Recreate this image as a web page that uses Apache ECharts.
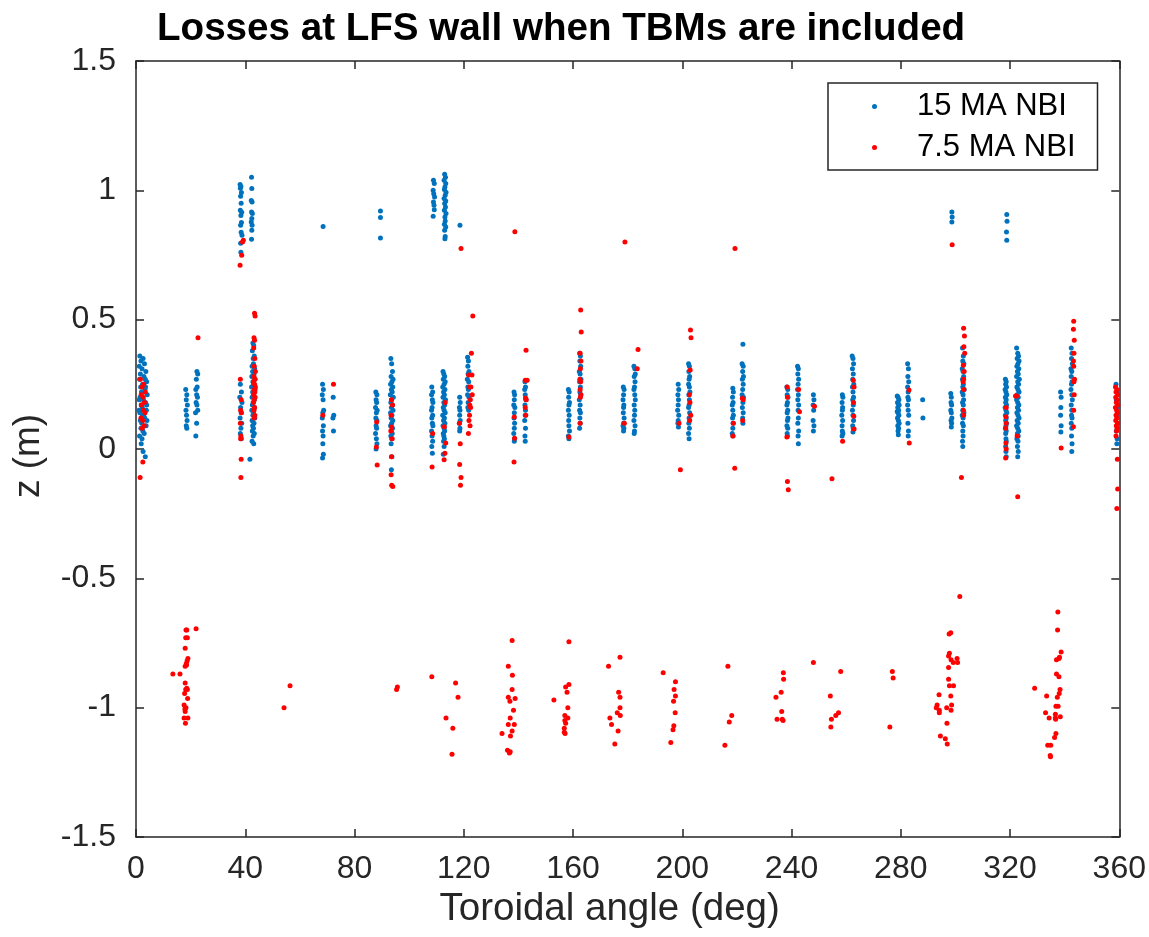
<!DOCTYPE html>
<html>
<head>
<meta charset="utf-8">
<script src="https://cdn.jsdelivr.net/npm/echarts@6/dist/echarts.min.js"></script>
<style>html,body{margin:0;padding:0;background:#fff;}#chart{width:1149px;height:937px;}</style>
</head>
<body>
<div id="chart"></div>
<script>
// ---- Data: [toroidal angle (deg), z (m)] ----
const seriesNames = ['15 MA NBI', '7.5 MA NBI'];
const xTicks = [0, 40, 80, 120, 160, 200, 240, 280, 320, 360];
const yTicks = [-1.5, -1, -0.5, 0, 0.5, 1, 1.5];

const blueTop = [
[38.1,1.023],[38.4,1.015],[38.2,1.008],[38.6,0.992],[38.3,0.977],[38.5,0.95],[38.2,0.923],[38.7,0.915],[38.4,0.903],[38.6,0.876],[38.3,0.865],[38.5,0.838],[38.8,0.826],[38.3,0.795],[38.4,0.761],
[42.3,1.051],[42.4,1.007],[42.2,0.961],[42.5,0.955],[42.3,0.916],[42.6,0.91],[42.4,0.891],[42.2,0.878],[42.5,0.865],[42.4,0.846],[42.3,0.811],
[68.5,0.86],
[89.5,0.92],[89.5,0.895],[89.5,0.816],
[108.9,1.039],[109.2,1.026],[108.8,1.0],[109.0,0.987],[109.3,0.974],[108.9,0.955],[109.1,0.942],[109.2,0.925],[108.8,0.90],
[113.0,1.062],[113.3,1.051],[112.8,1.039],[113.4,1.026],[113.1,1.013],[112.9,1.003],[113.5,0.993],[113.2,0.981],[112.8,0.968],[113.4,0.959],[113.0,0.949],[113.3,0.936],[112.9,0.923],[113.5,0.91],[113.1,0.897],[113.2,0.881],[112.9,0.869],[113.4,0.858],[113.0,0.846],[113.2,0.822],[113.1,0.813],
[118.6,0.865],
[298.7,0.916],[298.8,0.897],[298.7,0.878],
[318.8,0.907],[318.9,0.88],[318.7,0.839],[318.8,0.807]
];

const blueBand = [
[1.4,0.36],[2.6,0.35],[1.8,0.34],[3.1,0.33],[1.2,0.32],[2.2,0.31],[3.6,0.30],[1.6,0.29],[2.9,0.28],[1.3,0.27],[3.9,0.26],[2.4,0.25],[1.7,0.24],[3.3,0.23],[2.0,0.22],[4.1,0.21],[1.5,0.20],[2.7,0.19],[3.5,0.18],[1.9,0.17],[2.3,0.16],[3.8,0.15],[1.4,0.14],[2.8,0.13],[3.2,0.12],[1.6,0.11],[2.1,0.10],[3.7,0.09],[1.8,0.08],[2.5,0.07],[3.0,0.06],[1.3,0.05],[2.2,0.04],[1.9,0.02],[2.6,-0.01],[3.4,-0.03],
[3.4,0.27],[2.9,0.22],[3.9,0.17],[1.1,0.15],[4.0,0.11],[3.5,0.24],[1.2,0.19],[2.4,0.13],
[18.2,0.23],[18.6,0.21],[18.4,0.19],[18.8,0.17],[18.3,0.15],[18.5,0.13],[18.7,0.11],[18.4,0.09],[18.6,0.08],
[22.3,0.30],[22.6,0.29],[22.1,0.27],[22.4,0.24],[21.9,0.23],[22.2,0.21],[22.5,0.20],[22.0,0.18],[22.3,0.17],[22.6,0.15],[21.8,0.14],[22.2,0.10],[21.9,0.05],
[38.2,0.25],[38.6,0.22],[38.0,0.20],[38.8,0.18],[38.3,0.16],[38.5,0.14],[38.1,0.12],[38.7,0.10],[38.4,0.08],[38.2,0.06],[38.6,0.04],
[42.8,0.41],[43.1,0.40],[42.6,0.38],[43.3,0.36],[42.9,0.35],[43.0,0.33],[42.5,0.32],[43.4,0.31],[42.7,0.30],[43.2,0.29],[42.4,0.28],[43.5,0.27],[42.8,0.26],[43.0,0.25],[42.3,0.24],[43.6,0.23],[42.7,0.22],[43.1,0.21],[42.5,0.20],[43.3,0.19],[42.9,0.18],[42.6,0.17],[43.4,0.16],[42.4,0.15],[43.0,0.14],[42.8,0.13],[43.5,0.12],[42.5,0.11],[43.2,0.10],[42.7,0.09],[43.0,0.08],[42.6,0.07],[43.3,0.06],[42.9,0.05],[42.5,0.03],[43.1,0.02],[41.7,-0.04],
[68.3,0.25],[68.6,0.23],[68.2,0.21],[68.5,0.19],[68.7,0.15],[68.4,0.14],[68.2,0.12],[68.6,0.09],[68.3,0.07],[68.5,0.05],[68.4,0.02],[68.6,-0.02],[68.3,-0.035],
[72.2,0.20],[72.4,0.13],[72.1,0.12],[72.3,0.07],
[87.8,0.22],[88.2,0.21],[87.9,0.19],[88.1,0.18],[87.7,0.16],[88.3,0.15],[88.0,0.14],[87.8,0.12],[88.2,0.11],[87.9,0.09],[88.1,0.08],[87.7,0.06],[88.0,0.04],[88.2,0.02],[87.9,0.0],
[93.3,0.35],[93.6,0.33],[93.9,0.30],[93.4,0.28],[94.1,0.27],[93.7,0.26],[93.2,0.25],[94.0,0.24],[93.5,0.23],[93.8,0.22],[93.1,0.21],[94.2,0.20],[93.6,0.19],[93.3,0.18],[93.9,0.17],[93.5,0.16],[94.1,0.15],[93.2,0.14],[93.7,0.13],[93.4,0.12],[94.0,0.11],[93.6,0.10],[93.2,0.09],[93.9,0.08],[93.5,0.07],[93.8,0.06],[93.3,0.05],[93.6,0.04],[93.4,0.02],[93.7,-0.03],[93.5,-0.08],
[108.3,0.24],[108.6,0.22],[108.2,0.21],[108.5,0.19],[108.7,0.18],[108.4,0.16],[108.2,0.15],[108.6,0.13],[108.3,0.12],[108.5,0.10],[108.7,0.09],[108.2,0.07],[108.4,0.05],[108.6,0.03],[108.3,0.01],[108.5,-0.016],
[112.4,0.30],[112.7,0.29],[113.0,0.28],[112.5,0.27],[113.2,0.26],[112.8,0.25],[112.3,0.24],[113.1,0.23],[112.6,0.22],[112.9,0.21],[112.4,0.20],[113.3,0.19],[112.7,0.18],[113.0,0.17],[112.5,0.16],[112.8,0.15],[113.2,0.14],[112.3,0.13],[112.9,0.12],[112.6,0.11],[113.1,0.10],[112.4,0.09],[112.8,0.08],[113.0,0.07],[112.5,0.06],[112.7,0.05],[112.9,0.04],[112.6,0.03],[112.8,0.01],[112.5,-0.02],
[118.5,0.20],[118.7,0.18],[118.4,0.16],[118.6,0.15],[118.5,0.13],[118.7,0.11],[118.4,0.10],[118.6,0.08],[118.5,0.07],
[121.4,0.355],[121.7,0.34],[121.5,0.32],[121.9,0.30],[121.6,0.29],[121.3,0.27],[121.8,0.26],[121.5,0.24],[121.7,0.23],[121.4,0.21],[121.9,0.20],[121.6,0.18],[121.5,0.16],[121.8,0.15],
[138.4,0.22],[138.6,0.21],[138.5,0.19],[138.3,0.17],[138.7,0.16],[138.5,0.14],[138.4,0.12],[138.6,0.10],[138.5,0.08],[138.3,0.06],[138.6,0.04],[138.5,0.03],
[142.4,0.26],[142.6,0.24],[142.3,0.23],[142.5,0.21],[142.7,0.19],[142.4,0.17],[142.6,0.15],[142.5,0.13],[142.3,0.11],[142.6,0.08],[142.4,0.05],[142.5,0.03],
[158.3,0.23],[158.6,0.22],[158.4,0.20],[158.7,0.18],[158.5,0.17],[158.3,0.15],[158.6,0.13],[158.4,0.11],[158.5,0.09],[158.7,0.07],[158.3,0.05],[158.5,0.04],
[162.4,0.37],[162.7,0.36],[162.5,0.34],[162.8,0.32],[162.3,0.30],[162.6,0.29],[162.9,0.27],[162.4,0.26],[162.7,0.24],[162.5,0.22],[162.8,0.21],[162.3,0.19],[162.6,0.17],[162.4,0.15],[162.7,0.14],[162.5,0.12],[162.6,0.10],[162.4,0.08],
[178.4,0.24],[178.7,0.23],[178.5,0.21],[178.3,0.19],[178.6,0.17],[178.5,0.16],[178.4,0.14],[178.7,0.12],[178.5,0.10],[178.3,0.09],[178.6,0.08],[178.5,0.07],
[182.3,0.32],[182.6,0.31],[182.8,0.29],[182.4,0.28],[182.7,0.26],[182.5,0.24],[182.3,0.23],[182.6,0.21],[182.8,0.19],[182.4,0.17],[182.6,0.15],[182.5,0.13],[182.3,0.11],[182.7,0.09],[182.5,0.07],[182.4,0.06],
[198.5,0.25],[198.7,0.23],[198.4,0.21],[198.6,0.19],[198.5,0.17],[198.3,0.15],[198.7,0.13],[198.5,0.11],[198.4,0.10],[198.6,0.085],
[202.3,0.33],[202.6,0.32],[202.4,0.30],[202.7,0.28],[202.5,0.27],[202.3,0.25],[202.6,0.24],[202.8,0.22],[202.4,0.21],[202.6,0.19],[202.5,0.17],[202.3,0.16],[202.7,0.14],[202.5,0.12],[202.4,0.10],[202.6,0.08],[202.3,0.06],[202.5,0.04],
[218.5,0.235],[218.7,0.22],[218.4,0.20],[218.6,0.18],[218.3,0.17],[218.5,0.15],[218.7,0.13],[218.4,0.12],[218.6,0.10],[218.5,0.08],[218.3,0.06],[218.6,0.05],
[222.2,0.405],[221.9,0.33],[222.3,0.32],[222.1,0.30],[222.4,0.28],[222.0,0.27],[222.3,0.25],[222.1,0.23],[221.9,0.21],[222.4,0.20],[222.2,0.18],[222.0,0.16],[222.3,0.14],[222.1,0.12],[222.2,0.10],
[238.3,0.24],[238.6,0.23],[238.4,0.21],[238.7,0.20],[238.5,0.18],[238.3,0.17],[238.6,0.15],[238.4,0.14],[238.7,0.12],[238.5,0.11],[238.3,0.09],[238.6,0.08],[238.4,0.06],[238.5,0.05],
[242.2,0.32],[242.5,0.31],[242.3,0.29],[242.6,0.27],[242.4,0.25],[242.2,0.23],[242.5,0.21],[242.3,0.19],[242.6,0.17],[242.4,0.15],[242.5,0.12],[242.3,0.10],[242.6,0.07],[242.4,0.05],[242.5,0.02],
[248.0,0.21],[248.2,0.19],[247.9,0.17],[248.1,0.15],[247.9,0.11],[248.2,0.09],[248.0,0.07],
[258.6,0.21],[258.8,0.20],[258.5,0.18],[258.7,0.16],[258.6,0.15],[258.4,0.13],[258.7,0.11],[258.5,0.09],[258.6,0.07],[258.8,0.06],[258.5,0.05],
[262.2,0.36],[262.5,0.35],[262.7,0.33],[262.3,0.31],[262.6,0.29],[262.4,0.27],[262.8,0.25],[262.3,0.24],[262.5,0.22],[262.7,0.20],[262.4,0.19],[262.6,0.17],[262.3,0.15],[262.5,0.13],[262.7,0.11],[262.4,0.09],[262.6,0.08],[262.5,0.066],
[278.7,0.205],[279.0,0.20],[279.3,0.19],[278.8,0.18],[279.1,0.175],[279.4,0.17],[278.9,0.16],[279.2,0.15],[278.7,0.145],[279.0,0.14],[279.3,0.13],[278.8,0.12],[279.1,0.11],[279.4,0.10],[278.9,0.09],[279.2,0.08],[279.0,0.07],[279.1,0.055],
[282.5,0.33],[282.8,0.31],[282.6,0.28],[282.9,0.26],[282.5,0.24],[282.7,0.22],[282.6,0.20],[282.8,0.19],[282.5,0.17],[282.7,0.15],[282.9,0.13],[282.6,0.10],[282.8,0.07],[282.7,0.05],
[288.0,0.19],[288.1,0.12],
[298.3,0.215],[298.5,0.20],[298.4,0.18],[298.6,0.17],[298.3,0.15],[298.5,0.14],[298.7,0.12],[298.4,0.11],[298.6,0.10],[298.5,0.085],
[302.6,0.39],[302.9,0.36],[302.7,0.34],[303.1,0.33],[302.5,0.31],[302.8,0.30],[303.0,0.28],[302.6,0.27],[302.9,0.25],[302.7,0.24],[303.2,0.23],[302.5,0.22],[302.8,0.21],[303.0,0.19],[302.6,0.18],[302.9,0.17],[302.7,0.15],[303.1,0.14],[302.5,0.13],[302.8,0.12],[302.6,0.10],[302.9,0.09],[302.7,0.07],[302.8,0.05],[302.6,0.03],[302.7,0.01],
[318.3,0.27],[318.6,0.26],[318.4,0.25],[318.7,0.24],[318.2,0.23],[318.5,0.22],[318.8,0.21],[318.3,0.20],[318.6,0.19],[318.4,0.18],[318.7,0.17],[318.2,0.16],[318.5,0.15],[318.8,0.14],[318.3,0.13],[318.6,0.12],[318.4,0.11],[318.7,0.10],[318.5,0.09],[318.3,0.08],[318.6,0.07],[318.4,0.06],[318.5,0.04],[318.6,0.03],[318.4,0.01],[318.5,-0.01],[318.6,-0.03],
[322.4,0.39],[322.8,0.37],[323.1,0.36],[322.6,0.35],[323.3,0.34],[322.9,0.33],[322.5,0.32],[323.2,0.31],[322.7,0.30],[323.0,0.29],[322.4,0.28],[323.4,0.27],[322.8,0.26],[323.1,0.25],[322.5,0.24],[322.9,0.23],[323.3,0.22],[322.6,0.21],[323.0,0.20],[322.4,0.19],[322.8,0.18],[323.2,0.17],[322.7,0.16],[323.1,0.15],[322.5,0.14],[322.9,0.13],[323.3,0.12],[322.6,0.11],[323.0,0.10],[322.4,0.09],[322.8,0.08],[323.2,0.07],[322.7,0.06],[323.0,0.05],[322.5,0.04],[322.9,0.03],[322.7,0.01],[323.0,-0.01],[322.8,-0.03],
[338.5,0.22],[338.7,0.20],[338.6,0.16],[338.5,0.13],[338.7,0.09],[338.6,0.066],
[342.4,0.39],[342.7,0.37],[342.5,0.35],[342.8,0.33],[342.3,0.31],[342.6,0.30],[342.4,0.28],[342.7,0.26],[342.5,0.25],[342.3,0.23],[342.6,0.21],[342.8,0.19],[342.4,0.17],[342.6,0.15],[342.5,0.13],[342.7,0.12],[342.4,0.10],[342.6,0.08],[342.5,0.05],[342.7,0.02],[342.6,-0.01],
[358.8,0.25],[359.2,0.22],[358.9,0.19],[359.3,0.16],[359.0,0.13],[359.4,0.10],[358.9,0.07],[359.2,0.04],[359.1,0.02]
];

const redTop = [
[39.3,0.807],[39.0,0.80],[38.7,0.749],[38.1,0.71],[119.0,0.775],[138.7,0.84],[179.0,0.80],[219.3,0.775],[298.8,0.79]
];

const redBand = [
[1.6,0.27],[2.8,0.25],[2.2,0.24],[3.4,0.22],[1.9,0.21],[2.6,0.20],[3.1,0.18],[2.0,0.17],[2.7,0.15],[3.3,0.14],[1.8,0.12],[2.5,0.11],[3.0,0.09],[2.3,0.08],[2.5,-0.05],[1.5,-0.11],
[22.7,0.43],
[38.2,0.27],[38.5,0.19],[38.3,0.15],[38.6,0.14],[38.2,0.10],[38.4,0.05],[38.3,0.04],[38.5,-0.04],[38.4,-0.11],
[43.4,0.525],[43.6,0.514],[43.2,0.43],[43.4,0.42],[43.1,0.39],[43.5,0.35],[43.3,0.32],[43.7,0.30],[43.2,0.28],[43.6,0.27],[43.0,0.26],[43.4,0.25],[43.7,0.24],[43.3,0.23],[43.5,0.22],[43.1,0.21],[43.6,0.20],[43.3,0.19],[43.0,0.18],[43.4,0.16],[43.2,0.15],[43.5,0.13],[43.3,0.12],
[72.3,0.25],[68.4,0.13],
[88.1,0.104],[88.0,0.008],[88.3,-0.062],
[93.5,0.19],[93.9,0.17],[93.4,0.13],[93.6,0.085],[93.3,0.07],[93.8,0.04],[93.5,-0.03],[93.4,-0.10],[93.6,-0.14],[94.0,-0.145],
[108.6,0.06],[108.4,-0.07],
[113.2,0.18],[112.9,0.086],[113.4,0.023],[113.1,-0.016],[112.8,-0.042],
[118.4,0.10],[118.7,0.02],[118.5,-0.06],[119.0,-0.11],[118.8,-0.14],
[123.3,0.514],[122.8,0.37],[121.8,0.286],[123.0,0.286],[122.0,0.24],[122.6,0.24],[123.1,0.21],[122.4,0.19],[122.2,0.17],[122.5,0.16],[122.1,0.13],[121.9,0.11],[122.3,0.09],[121.7,0.06],
[138.5,0.124],[138.6,0.042],[138.4,-0.05],
[142.8,0.382],[142.5,0.266],[143.2,0.266],[142.6,0.197],[142.9,0.19],[142.5,0.16],[142.7,0.13],
[158.5,0.046],
[162.8,0.537],[163.0,0.452],[162.6,0.37],[162.9,0.34],[162.7,0.31],[162.5,0.27],[162.8,0.26],[162.6,0.23],[162.9,0.21],[162.7,0.20],[162.6,0.10],
[183.8,0.385],[183.5,0.31],[178.8,0.10],
[203.0,0.46],[203.2,0.43],[202.9,0.305],[202.6,0.21],[202.8,0.18],[203.1,0.13],[202.7,0.11],[198.8,0.10],[199.3,-0.08],
[222.0,0.196],[222.3,0.19],[222.1,0.11],[218.7,0.10],[218.5,0.05],[219.2,-0.074],
[238.4,0.24],[238.5,0.20],[238.3,0.046],[238.5,-0.126],[238.8,-0.158],[242.6,0.23],[242.9,0.144],
[248.4,0.165],
[254.8,-0.115],
[262.6,0.266],[262.9,0.24],[262.7,0.18],[262.8,0.127],[262.9,0.077],[258.7,0.03],
[283.0,0.228],[283.1,0.023],
[303.0,0.467],[303.3,0.437],[303.1,0.395],[303.4,0.37],[302.9,0.324],[303.2,0.30],[303.0,0.27],[302.8,0.26],[303.1,0.23],[302.9,0.15],[303.0,0.13],[302.2,-0.11],
[318.6,0.16],[318.5,0.125],[318.6,0.10],[318.4,0.08],[318.5,0.023],[318.6,0.0],[318.4,-0.035],
[322.0,0.205],[322.4,0.205],[322.6,0.05],[322.8,-0.185],
[338.7,0.004],
[343.3,0.494],[343.2,0.463],[343.5,0.42],[343.4,0.37],[343.2,0.34],[343.3,0.32],[343.6,0.27],[343.4,0.26],[343.5,0.21],[343.3,0.15],[343.2,0.086],
[358.6,0.24],[359.1,0.23],[358.8,0.22],[359.4,0.21],[358.7,0.20],[359.2,0.19],[358.9,0.18],[359.5,0.17],[358.6,0.16],[359.0,0.15],[359.3,0.14],[358.8,0.13],[359.1,0.12],[358.7,0.11],[359.4,0.10],[358.9,0.09],[359.2,0.08],[359.0,0.07],[358.8,0.05],[359.3,-0.04],[359.4,-0.155],[359.1,-0.23]
];

const redLow = [
[22.0,-0.695],[18.3,-0.70],[18.6,-0.70],[18.2,-0.73],[18.8,-0.73],[18.0,-0.77],[19.0,-0.81],[18.7,-0.82],[18.4,-0.83],[18.0,-0.84],[18.5,-0.835],[13.5,-0.87],[16.1,-0.87],[18.0,-0.905],[18.2,-0.93],[18.8,-0.93],[17.8,-0.945],[18.9,-0.965],[17.6,-0.99],[18.3,-1.0],[18.0,-1.015],[17.6,-1.04],[19.0,-1.04],[18.1,-1.06],[18.6,-0.925],[17.9,-1.005],
[56.4,-0.915],[54.2,-1.0],
[95.4,-0.93],[95.7,-0.92],
[108.3,-0.88],[117.0,-0.905],[117.9,-0.96],[113.5,-1.04],[116.0,-1.08],[115.7,-1.18],
[137.7,-0.74],[136.3,-0.84],[137.8,-0.875],[137.7,-0.93],[136.3,-0.96],[136.9,-0.975],[138.8,-0.965],[138.2,-1.01],[137.0,-1.04],[136.3,-1.065],[138.5,-1.065],[137.7,-1.09],[134.0,-1.10],[137.1,-1.11],[136.0,-1.165],[136.7,-1.175],[137.0,-1.17],
[158.5,-0.745],[158.5,-0.91],[157.3,-0.92],[157.8,-0.94],[153.0,-0.97],[158.1,-1.0],[157.0,-1.03],[158.1,-1.04],[157.0,-1.05],[157.3,-1.06],[156.8,-1.08],[156.8,-1.095],[157.1,-1.10],
[177.2,-0.805],[173.0,-0.84],[176.7,-0.94],[177.2,-0.96],[177.2,-1.0],[176.2,-1.02],[177.3,-1.03],[173.5,-1.04],[174.1,-1.065],[176.5,-1.09],[175.3,-1.14],
[193.0,-0.865],[197.5,-0.90],[197.0,-0.93],[197.5,-0.955],[196.8,-0.975],[197.4,-1.02],[196.9,-1.07],[196.6,-1.085],[195.8,-1.135],
[216.7,-0.84],[218.1,-1.03],[217.2,-1.055],[215.6,-1.145],
[237.0,-0.865],[237.1,-0.89],[236.2,-0.94],[234.3,-0.96],[236.4,-1.015],[234.7,-1.045],[236.6,-1.045],[236.9,-1.05],
[248.0,-0.825],
[258.0,-0.86],[254.2,-0.955],[257.2,-1.02],[256.2,-1.03],[254.6,-1.045],[254.4,-1.075],
[276.9,-0.86],[277.2,-0.885],[276.0,-1.075],
[301.6,-0.57],[297.7,-0.715],[298.3,-0.71],[297.8,-0.79],[297.5,-0.80],[298.4,-0.815],[299.2,-0.825],[300.6,-0.81],[300.8,-0.825],[297.5,-0.845],[297.5,-0.89],[297.8,-0.915],[299.3,-0.915],[294.0,-0.95],[298.3,-0.955],[293.3,-0.99],[293.0,-1.0],[294.1,-1.01],[294.1,-1.02],[296.8,-1.0],[298.6,-0.99],[298.4,-1.01],[296.9,-1.06],[294.5,-1.11],[296.3,-1.12],[297.0,-1.14],
[337.5,-0.63],[337.4,-0.70],[338.7,-0.785],[337.0,-0.815],[337.9,-0.81],[338.1,-0.805],[337.0,-0.87],[337.9,-0.88],[338.3,-0.93],[338.0,-0.945],[337.3,-0.96],[329.0,-0.925],[333.4,-0.955],[336.8,-0.995],[337.6,-0.995],[333.0,-1.02],[334.3,-1.04],[336.6,-1.025],[336.7,-1.045],[338.4,-1.035],[336.6,-1.04],[336.8,-1.10],[336.3,-1.115],[333.8,-1.145],[334.9,-1.145],[334.7,-1.185],[334.8,-1.19]
];

// ---- Chart ----
const FONT = '"Liberation Sans", Arial, Helvetica, sans-serif';
const AX = '#262626';
const chart = echarts.init(document.getElementById('chart'), null, {renderer: 'canvas'});

function baseX(pos, showLabels) {
  return {
    type: 'value', position: pos, min: xTicks[0], max: xTicks[xTicks.length - 1],
    interval: xTicks[1] - xTicks[0],
    axisLine: {show: true, onZero: false, lineStyle: {color: AX, width: 1.5}},
    axisTick: {show: true, inside: true, length: 8, lineStyle: {color: AX, width: 1.5}},
    axisLabel: {show: showLabels, fontSize: 32, color: AX, fontFamily: FONT, margin: 16},
    splitLine: {show: false}
  };
}
function baseY(pos, showLabels) {
  return {
    type: 'value', position: pos, min: yTicks[0], max: yTicks[yTicks.length - 1],
    interval: yTicks[1] - yTicks[0],
    axisLine: {show: true, onZero: false, lineStyle: {color: AX, width: 1.5}},
    axisTick: {show: true, inside: true, length: 8, lineStyle: {color: AX, width: 1.5}},
    axisLabel: {show: showLabels, fontSize: 32, color: AX, fontFamily: FONT, margin: 20},
    splitLine: {show: false}
  };
}

const xBottom = Object.assign(baseX('bottom', true), {
  name: 'Toroidal angle (deg)', nameLocation: 'middle', nameGap: 51,
  nameTextStyle: {fontSize: 38.5, color: AX, fontFamily: FONT, padding: [0, 36, 0, 0]}
});
const yLeft = Object.assign(baseY('left', true), {
  name: 'z (m)', nameLocation: 'middle', nameGap: 89,
  nameTextStyle: {fontSize: 37, color: AX, fontFamily: FONT, padding: [0, 14, 0, 0]}
});

chart.setOption({
  animation: false,
  backgroundColor: '#fff',
  title: {
    text: 'Losses at LFS wall when TBMs are included',
    left: 152, top: 5,
    textStyle: {fontSize: 38.6, fontWeight: 'bold', color: '#000', fontFamily: FONT}
  },
  grid: {left: 136, right: 29, top: 61, bottom: 100, containLabel: false},
  xAxis: [xBottom, baseX('top', false)],
  yAxis: [yLeft, baseY('right', false)],
  legend: {
    orient: 'vertical', left: 828, top: 83,
    padding: [8, 22, 7, 44], itemGap: 10,
    itemWidth: 5, itemHeight: 5, icon: 'circle',
    borderColor: AX, borderWidth: 1.5, backgroundColor: '#fff',
    textStyle: {fontSize: 31, color: '#000', fontFamily: FONT, lineHeight: 31, padding: [0, 0, 0, 35]},
    data: seriesNames
  },
  series: [
    {
      name: seriesNames[0], type: 'scatter', symbol: 'circle', symbolSize: 5,
      itemStyle: {color: '#0072BD', opacity: 1}, xAxisIndex: 0, yAxisIndex: 0,
      data: blueTop.concat(blueBand)
    },
    {
      name: seriesNames[1], type: 'scatter', symbol: 'circle', symbolSize: 5,
      itemStyle: {color: '#FF0000', opacity: 1}, xAxisIndex: 0, yAxisIndex: 0,
      data: redTop.concat(redBand, redLow)
    }
  ]
});
</script>
</body>
</html>
